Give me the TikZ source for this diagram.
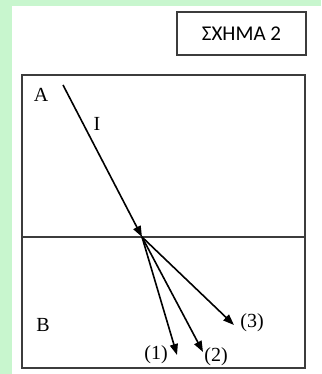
\documentclass[tikz,border=0pt]{standalone}
\usepackage{fontspec}
\setmainfont{Liberation Serif}
\newfontfamily\titlefont{Carlito}
\usetikzlibrary{arrows.meta}
\definecolor{bgreen}{RGB}{200,246,206}
\definecolor{frame}{RGB}{60,60,60}

\begin{document}
\begin{tikzpicture}[x=1pt,y=-1pt,every node/.style={font=\fontsize{20}{20}\selectfont},
  ray/.style={line width=1.6pt,-{Triangle[length=11pt,width=8pt]}}]
\useasboundingbox (0,0) rectangle (321,374);
\fill[bgreen] (0,0) rectangle (321,374);
\fill[white] (12,6) rectangle (321,374);
\node[draw=frame,line width=1.5pt,minimum width=129pt,minimum height=43pt,inner sep=0pt,
  font=\titlefont\fontsize{21}{21}\selectfont] (title) at (241.5,33.5) {ΣΧΗΜΑ 2};
\draw[frame,line width=1.8pt] (22,75) rectangle (305,368);
\coordinate (L) at (22,237);
\coordinate (R) at (305,237);
\draw[frame,line width=1.8pt] (L)--(R);
\coordinate (S) at (63,85);
\coordinate (O) at (142,237);
\coordinate (e1) at (177,355);
\coordinate (e2) at (203,352);
\coordinate (e3) at (234,325);
\draw[ray] (S)--(O);
\draw[ray] (O)--(e1);
\draw[ray] (O)--(e2);
\draw[ray] (O)--(e3);
\node (A) at (41,95) {A};
\node (B) at (43,325) {B};
\node (I) at (97,124) {I};
\node (l1) at (156,355) {(1)};
\node (l2) at (216,357) {(2)};
\node (l3) at (252,323) {(3)};
\end{tikzpicture}
\end{document}
